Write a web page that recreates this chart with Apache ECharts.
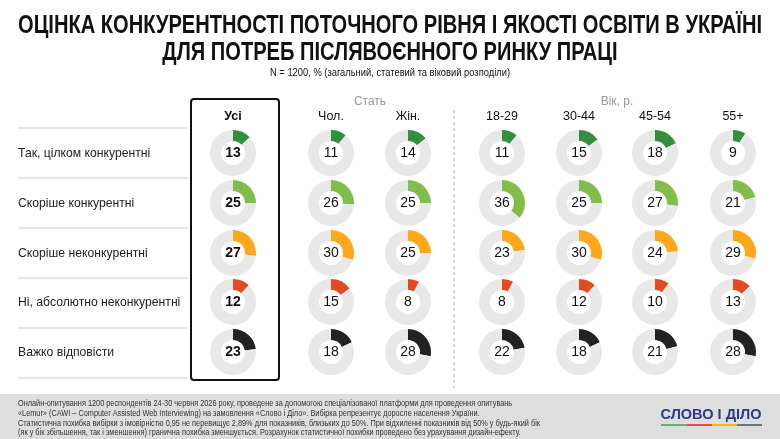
<!DOCTYPE html>
<html>
<head>
<meta charset="utf-8">
<script src="https://cdn.jsdelivr.net/npm/echarts@6/dist/echarts.min.js"></script>
<style>
  html, body { margin: 0; padding: 0; background: #fff; }
  #main { width: 780px; height: 439px; }
</style>
</head>
<body>
<div id="main"></div>
<script>
// відповіді (рядки)
var answers = ['Так, цілком конкурентні', 'Скоріше конкурентні', 'Скоріше неконкурентні',
               'Ні, абсолютно неконкурентні', 'Важко відповісти'];
// групи (стовпці)
var groups = ['Усі', 'Чол.', 'Жін.', '18-29', '30-44', '45-54', '55+'];
// значення, % — один масив на кожну відповідь, порядок як у groups
var fullyYes     = [13, 11, 14, 11, 15, 18, 9];
var ratherYes    = [25, 26, 25, 36, 25, 27, 21];
var ratherNo     = [27, 30, 25, 23, 30, 24, 29];
var absolutelyNo = [12, 15, 8, 8, 12, 10, 13];
var hardToSay    = [23, 18, 28, 22, 18, 21, 28];
var values = [fullyYes, ratherYes, ratherNo, absolutelyNo, hardToSay];

var titleLines = ['ОЦІНКА КОНКУРЕНТНОСТІ ПОТОЧНОГО РІВНЯ І ЯКОСТІ ОСВІТИ В УКРАЇНІ',
                  'ДЛЯ ПОТРЕБ ПІСЛЯВОЄННОГО РИНКУ ПРАЦІ'];
var subtitle = 'N = 1200, % (загальний, статевий та віковий розподіли)';
var footLines = [
    'Онлайн-опитування 1200 респондентів 24-30 червня 2026 року, проведене за допомогою спеціалізованої платформи для проведення опитувань',
    '«Lemur» (CAWI – Computer Assisted Web Interviewing) на замовлення «Слово і Діло». Вибірка репрезентує доросле населення України.',
    'Статистична похибка вибірки з імовірністю 0,95 не перевищує 2,89% для показників, близьких до 50%. При відхиленні показників від 50% у будь-який бік',
    '(як у бік збільшення, так і зменшення) гранична похибка зменшується. Розрахунок статистичної похибки проведено без урахування дизайн-ефекту.'
];

var colors = ['#338f3d', '#80bd4b', '#fca81a', '#e24a22', '#222222'];
var colX = [233, 331, 408, 502, 579, 655, 733];
var rowY = [153, 203, 253, 302, 352];

var baseFont = "'Liberation Sans', Arial, sans-serif";

// ширина тексту — щоб стиснути шрифт як "narrow"
var ctx = document.createElement('canvas').getContext('2d');
function textWidth(str, font) {
    ctx.font = font;
    return ctx.measureText(str).width;
}

var series = [];
var graphics = [];

// пончики
for (var r = 0; r < answers.length; r++) {
    for (var c = 0; c < groups.length; c++) {
        var v = values[r][c];
        series.push({
            type: 'pie',
            silent: true,
            animation: false,
            center: [colX[c], rowY[r]],
            radius: [12, 23],
            startAngle: 90,
            clockwise: true,
            labelLine: { show: false },
            data: [
                {
                    value: v,
                    itemStyle: { color: colors[r] },
                    label: {
                        show: true,
                        position: 'center',
                        formatter: '{c}',
                        fontSize: 14,
                        fontWeight: c === 0 ? 'bold' : 'normal',
                        color: '#111',
                        fontFamily: baseFont
                    }
                },
                { value: 100 - v, itemStyle: { color: '#e8e8e8' }, label: { show: false } }
            ]
        });
    }
}

// заголовок (стиснутий по ширині)
var titleFont = 'bold 25px ' + baseFont;
var titleScale = 744 / textWidth(titleLines[0], titleFont);
for (var t = 0; t < titleLines.length; t++) {
    graphics.push({
        type: 'text', x: 390, y: 26 + t * 27, scaleX: titleScale,
        style: { text: titleLines[t], fill: '#111', font: titleFont, textAlign: 'center', textVerticalAlign: 'middle' }
    });
}
var subFont = '11px ' + baseFont;
graphics.push({
    type: 'text', x: 390, y: 73, scaleX: 240 / textWidth(subtitle, subFont),
    style: { text: subtitle, fill: '#111', font: subFont, textAlign: 'center', textVerticalAlign: 'middle' }
});

// підписи рядків і лінії-розділювачі
for (var i = 0; i < answers.length; i++) {
    graphics.push({
        type: 'text', x: 18, y: rowY[i] + 1,
        style: { text: answers[i], fill: '#222', font: '12.2px ' + baseFont, textVerticalAlign: 'middle' }
    });
}
for (var j = 0; j <= answers.length; j++) {
    var yy = 128 + j * 50;
    graphics.push({
        type: 'line',
        shape: { x1: 18, y1: yy, x2: 188, y2: yy },
        style: { stroke: '#cccccc', lineWidth: 1 }
    });
}

// заголовки стовпців
for (var k = 0; k < groups.length; k++) {
    graphics.push({
        type: 'text', x: colX[k], y: 117,
        style: {
            text: groups[k], fill: '#111',
            font: (k === 0 ? 'bold ' : '') + '12.5px ' + baseFont,
            textAlign: 'center', textVerticalAlign: 'middle'
        }
    });
}

// підвал
var footFont = '8.5px ' + baseFont;
var footScale = 522 / textWidth(footLines[2], footFont);
graphics.push(
    { type: 'text', x: 370, y: 102,
      style: { text: 'Стать', fill: '#999', font: '12px ' + baseFont, textAlign: 'center', textVerticalAlign: 'middle' } },
    { type: 'text', x: 617, y: 102,
      style: { text: 'Вік, р.', fill: '#999', font: '12px ' + baseFont, textAlign: 'center', textVerticalAlign: 'middle' } },
    // рамка "Усі"
    { type: 'rect', shape: { x: 191, y: 99, width: 88, height: 281, r: 3 },
      style: { fill: 'none', stroke: '#111', lineWidth: 2 } },
    // пунктир між статтю та віком
    { type: 'line', shape: { x1: 454, y1: 110, x2: 454, y2: 388 },
      style: { stroke: '#aaaaaa', lineWidth: 1, lineDash: [3, 3] } },
    { type: 'rect', shape: { x: 0, y: 394, width: 780, height: 45 }, style: { fill: '#dedede' } }
);
for (var f = 0; f < footLines.length; f++) {
    graphics.push({
        type: 'text', x: 18, y: 404 + f * 9.6, scaleX: footScale,
        style: { text: footLines[f], fill: '#333', font: footFont, textVerticalAlign: 'middle' }
    });
}

// логотип
var logoText = 'СЛОВО І ДІЛО';
var logoFont = 'bold 15px ' + baseFont;
graphics.push(
    { type: 'text', x: 711, y: 415, scaleX: 101 / textWidth(logoText, logoFont),
      style: { text: logoText, fill: '#2b3a8c', font: logoFont, textAlign: 'center', textVerticalAlign: 'middle' } },
    { type: 'rect', shape: { x: 661, y: 424, width: 26, height: 2 }, style: { fill: '#5cb85c' } },
    { type: 'rect', shape: { x: 687, y: 424, width: 25, height: 2 }, style: { fill: '#e8504a' } },
    { type: 'rect', shape: { x: 712, y: 424, width: 25, height: 2 }, style: { fill: '#f4b400' } },
    { type: 'rect', shape: { x: 737, y: 424, width: 25, height: 2 }, style: { fill: '#6b7386' } }
);

var myChart = echarts.init(document.getElementById('main'), null, { renderer: 'canvas' });

var option = {
    animation: false,
    backgroundColor: '#ffffff',
    graphic: graphics,
    series: series
};

//使用刚指定过的配置项和数据填充图表
myChart.setOption(option, true);
</script>
</body>
</html>
